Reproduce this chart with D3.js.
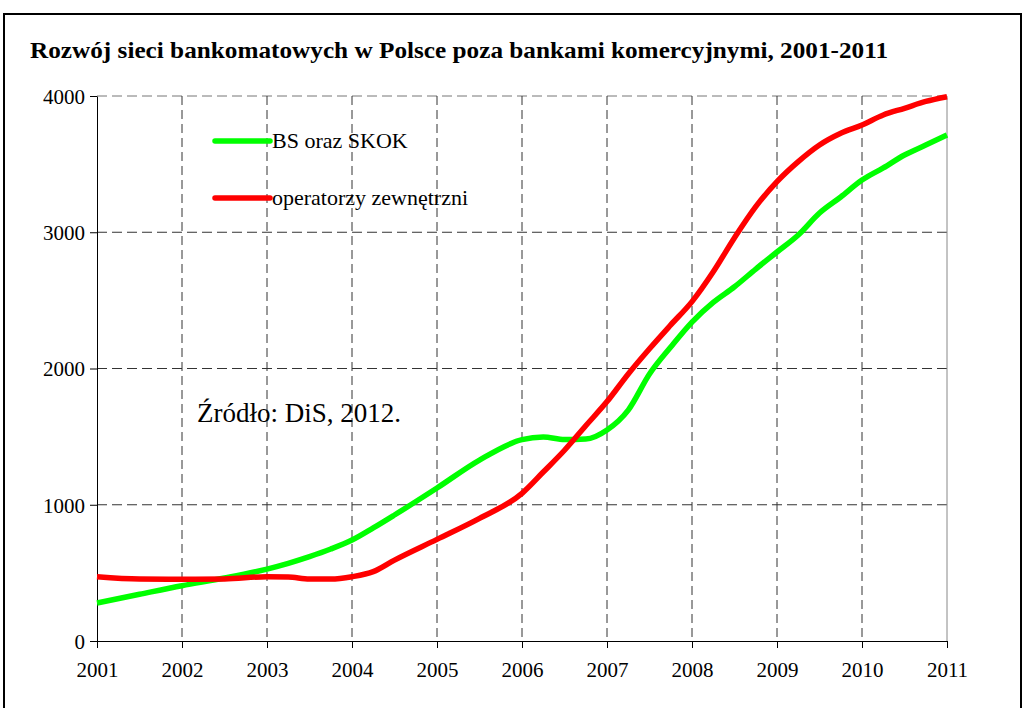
<!DOCTYPE html>
<html>
<head>
<meta charset="utf-8">
<script src="https://cdn.jsdelivr.net/npm/d3@7"></script>
<style>
  body { margin: 0; background: #fff; }
  svg text { font-family: "Liberation Serif", "DejaVu Serif", serif; fill: #000; }
</style>
</head>
<body>
<svg id="chart" width="1024" height="708"></svg>
<script>
// time points (fractional years)
var dates = [2001, 2001.5, 2002, 2002.5, 2003, 2003.25, 2003.5, 2003.75, 2004, 2004.25, 2004.5,
    2005, 2005.5, 2006, 2006.25, 2006.5, 2006.75, 2007, 2007.25, 2007.5, 2007.75,
    2008, 2008.25, 2008.5, 2008.75, 2009, 2009.25, 2009.5, 2009.75,
    2010, 2010.25, 2010.5, 2010.75, 2011];

var bsSkok = [279, 343, 406, 462, 528, 570, 619, 675, 741, 830, 925,
    1123, 1328, 1478, 1497, 1478, 1482, 1549, 1695, 1960, 2158,
    2341, 2485, 2600, 2730, 2855, 2980, 3141, 3259,
    3383, 3472, 3567, 3640, 3714];

var operatorzy = [472, 455, 453, 455, 472, 470, 455, 455, 472, 509, 594,
    746, 900, 1084, 1240, 1400, 1580, 1757, 1960, 2145, 2320,
    2491, 2710, 2960, 3188, 3371, 3518, 3640, 3726,
    3787, 3861, 3910, 3960, 3995];

var yearTicks = [2001, 2002, 2003, 2004, 2005, 2006, 2007, 2008, 2009, 2010, 2011];
var valueTicks = [0, 1000, 2000, 3000, 4000];

var series = [
    { name: 'BS oraz SKOK', values: bsSkok, color: '#00ff00' },
    { name: 'operatorzy zewnętrzni', values: operatorzy, color: '#ff0000' }
];

var svg = d3.select('#chart');

// outer frame
svg.append('path')
    .attr('d', 'M4,708 L4,14 L1021,14 L1021,708')
    .attr('fill', 'none')
    .attr('stroke', '#000')
    .attr('stroke-width', 2);

svg.append('text')
    .attr('x', 30)
    .attr('y', 58)
    .attr('font-size', 24)
    .attr('font-weight', 'bold')
    .attr('textLength', 858)
    .attr('lengthAdjust', 'spacingAndGlyphs')
    .text('Rozwój sieci bankomatowych w Polsce poza bankami komercyjnymi, 2001-2011');

var x = d3.scaleLinear().domain([2001, 2011]).range([97, 947]);
var y = d3.scaleLinear().domain([0, 4000]).range([641, 96]);

// grid
var grid = svg.append('g');
grid.selectAll('line.h')
    .data(valueTicks.slice(1))
    .join('line')
    .classed('h', true)
    .attr('x1', x(2001)).attr('x2', x(2011))
    .attr('y1', function(d) { return y(d); })
    .attr('y2', function(d) { return y(d); })
    .attr('stroke', function(d) { return d === 4000 ? '#777' : '#333'; })
    .attr('stroke-dasharray', '10,5');

grid.selectAll('line.v')
    .data(yearTicks.slice(1))
    .join('line')
    .classed('v', true)
    .attr('x1', function(d) { return x(d); })
    .attr('x2', function(d) { return x(d); })
    .attr('y1', y(4000)).attr('y2', y(0))
    .attr('stroke', function(d) { return d === 2011 ? '#888' : '#333'; })
    .attr('stroke-dasharray', function(d) { return d === 2011 ? null : '9,5'; });

// axes
var xAxis = svg.append('g')
    .attr('transform', 'translate(0,' + y(0) + ')')
    .call(d3.axisBottom(x).tickValues(yearTicks).tickFormat(d3.format('d')).tickSize(7).tickSizeOuter(0));
xAxis.selectAll('text')
    .attr('y', 36).attr('dy', 0)
    .attr('font-size', 21);

var yAxis = svg.append('g')
    .attr('transform', 'translate(' + x(2001) + ',0)')
    .call(d3.axisLeft(y).tickValues(valueTicks).tickFormat(d3.format('d')).tickSize(7).tickSizeOuter(0));
yAxis.selectAll('text')
    .attr('x', -12).attr('dy', '0.35em')
    .attr('font-size', 21);
svg.selectAll('.domain, .tick line').attr('stroke', '#000');

// series lines
var line = d3.line()
    .x(function(d, i) { return x(dates[i]); })
    .y(function(d) { return y(d); })
    .curve(d3.curveMonotoneX);

svg.selectAll('path.series')
    .data(series)
    .join('path')
    .classed('series', true)
    .attr('d', function(d) { return line(d.values); })
    .attr('fill', 'none')
    .attr('stroke', function(d) { return d.color; })
    .attr('stroke-width', 5.5)
    .attr('stroke-linejoin', 'round');

// legend
var legend = svg.selectAll('g.legend')
    .data(series)
    .join('g')
    .classed('legend', true)
    .attr('transform', function(d, i) {
        return 'translate(215,' + (141 + i * 57) + ')';
    });
legend.append('line')
    .attr('x1', 0).attr('x2', 55)
    .attr('stroke', function(d) { return d.color; })
    .attr('stroke-width', 5.5)
    .attr('stroke-linecap', 'round');
legend.append('text')
    .attr('x', 57)
    .attr('y', 7)
    .attr('font-size', 22)
    .text(function(d) { return d.name; });

svg.append('text')
    .attr('x', 197)
    .attr('y', 422)
    .attr('font-size', 27)
    .text('Źródło: DiS, 2012.');
</script>
</body>
</html>
